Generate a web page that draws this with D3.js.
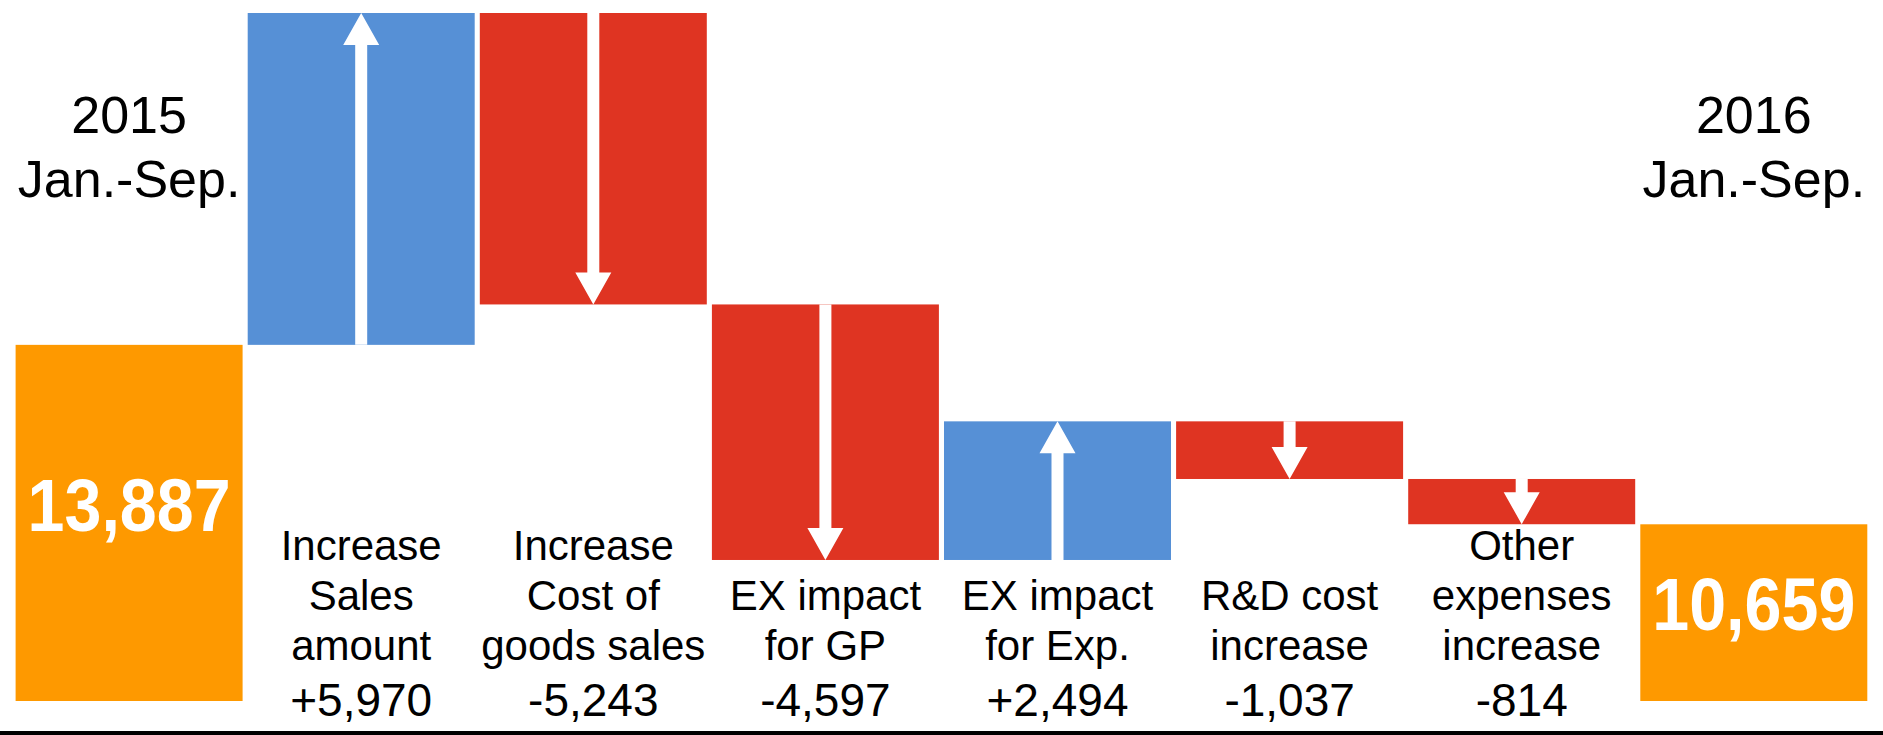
<!DOCTYPE html>
<html>
<head>
<meta charset="utf-8">
<script src="https://cdnjs.cloudflare.com/ajax/libs/d3/7.8.5/d3.min.js"></script>
<style>
  body { margin: 0; background: #fff; }
  svg { display: block; font-family: "Liberation Sans", Arial, sans-serif; }
</style>
</head>
<body>
<svg id="chart"></svg>
<script>
/* data */
const steps = ["start", "sales", "cogs", "exGP", "exExp", "rd", "other", "end"];
const amounts = [13887, 5970, -5243, -4597, 2494, -1037, -814, 10659];
const kinds = ["total", "delta", "delta", "delta", "delta", "delta", "delta", "total"];
const labelLines = [
  [],
  ["Increase", "Sales", "amount"],
  ["Increase", "Cost of", "goods sales"],
  ["EX impact", "for GP"],
  ["EX impact", "for Exp."],
  ["R&D cost", "increase"],
  ["Other", "expenses", "increase"],
  []
];
const periods = [["2015", "Jan.-Sep."], ["2016", "Jan.-Sep."]];

/* layout */
const width = 1883, height = 735;
const yFloor = 7480;
const color = { total: "#fe9900", up: "#5690d6", down: "#df3422" };

const fmtDelta = d3.formatLocale({
  decimal: ".", thousands: ",", grouping: [3], currency: ["", ""], minus: "-"
}).format("+,");
const fmtTotal = d3.format(",");

/* running totals */
let rows = [];
let run = 0;
amounts.forEach((v, i) => {
  if (kinds[i] === "total") {
    rows.push({ step: steps[i], kind: "total", from: yFloor, to: v, v, i });
    run = v;
  } else {
    rows.push({ step: steps[i], kind: v > 0 ? "up" : "down", from: run, to: run + v, v, i });
    run += v;
  }
});

let svg = d3.select("#chart")
  .attr("width", width)
  .attr("height", height);

let x = d3.scaleBand()
  .domain(steps)
  .range([15.6, 1867.3])
  .paddingInner(0.022)
  .paddingOuter(0);

let y = d3.scaleLinear()
  .domain([yFloor, d3.max(rows, d => Math.max(d.from, d.to))])
  .range([701, 13]);

let cx = d => x(d.step) + x.bandwidth() / 2;

// bars
svg.selectAll(".bar")
  .data(rows)
  .enter().append("rect")
  .attr("class", "bar")
  .attr("x", d => x(d.step))
  .attr("width", x.bandwidth())
  .attr("y", d => y(Math.max(d.from, d.to)))
  .attr("height", d => Math.abs(y(d.from) - y(d.to)))
  .style("fill", d => color[d.kind]);

// white arrows inside the change bars
let shaft = 12, head = 36, headLen = 32;
let line = d3.line();
svg.selectAll(".arrow")
  .data(rows.filter(d => d.kind !== "total"))
  .enter().append("path")
  .attr("class", "arrow")
  .attr("d", d => {
    let c = cx(d);
    let y0 = y(d.from), y1 = y(d.to);
    let hb = y1 + (y1 < y0 ? headLen : -headLen);
    return line([
      [c - shaft / 2, y0], [c - shaft / 2, hb], [c - head / 2, hb], [c, y1],
      [c + head / 2, hb], [c + shaft / 2, hb], [c + shaft / 2, y0]
    ]) + "Z";
  })
  .style("fill", "#fff");

// totals inside the orange bars
svg.selectAll(".total")
  .data(rows.filter(d => d.kind === "total"))
  .enter().append("text")
  .attr("class", "total")
  .attr("x", cx)
  .attr("y", d => {
    let top = y(d.to), bot = y(d.from);
    return top + (bot - top) * 0.45 + 26;
  })
  .attr("text-anchor", "middle")
  .attr("textLength", 203)
  .attr("lengthAdjust", "spacingAndGlyphs")
  .style("font-size", "74px")
  .style("font-weight", "bold")
  .style("fill", "#fff")
  .text(d => fmtTotal(d.v));

// period captions above the totals
let totals = rows.filter(d => d.kind === "total");
totals.forEach((d, k) => {
  let t = svg.append("text")
    .attr("text-anchor", "middle")
    .style("font-size", "52px")
    .style("fill", "#000");
  periods[k].forEach((s, j) => {
    t.append("tspan")
      .attr("x", cx(d))
      .attr("y", 133 + j * 64)
      .text(s);
  });
});

// category labels + change values
let valueBase = 716;
rows.filter(d => d.kind !== "total").forEach(d => {
  let lines = labelLines[d.i];
  let n = lines.length;
  let g = svg.append("g")
    .attr("text-anchor", "middle")
    .style("fill", "#000");
  lines.forEach((s, j) => {
    g.append("text")
      .attr("x", cx(d))
      .attr("y", valueBase - 56 - (n - 1 - j) * 50)
      .style("font-size", "42px")
      .text(s);
  });
  g.append("text")
    .attr("x", cx(d))
    .attr("y", valueBase)
    .style("font-size", "46px")
    .text(fmtDelta(d.v));
});

// bottom rule
svg.append("rect")
  .attr("x", 0)
  .attr("y", 731)
  .attr("width", width)
  .attr("height", 4)
  .style("fill", "#000");
</script>
</body>
</html>
